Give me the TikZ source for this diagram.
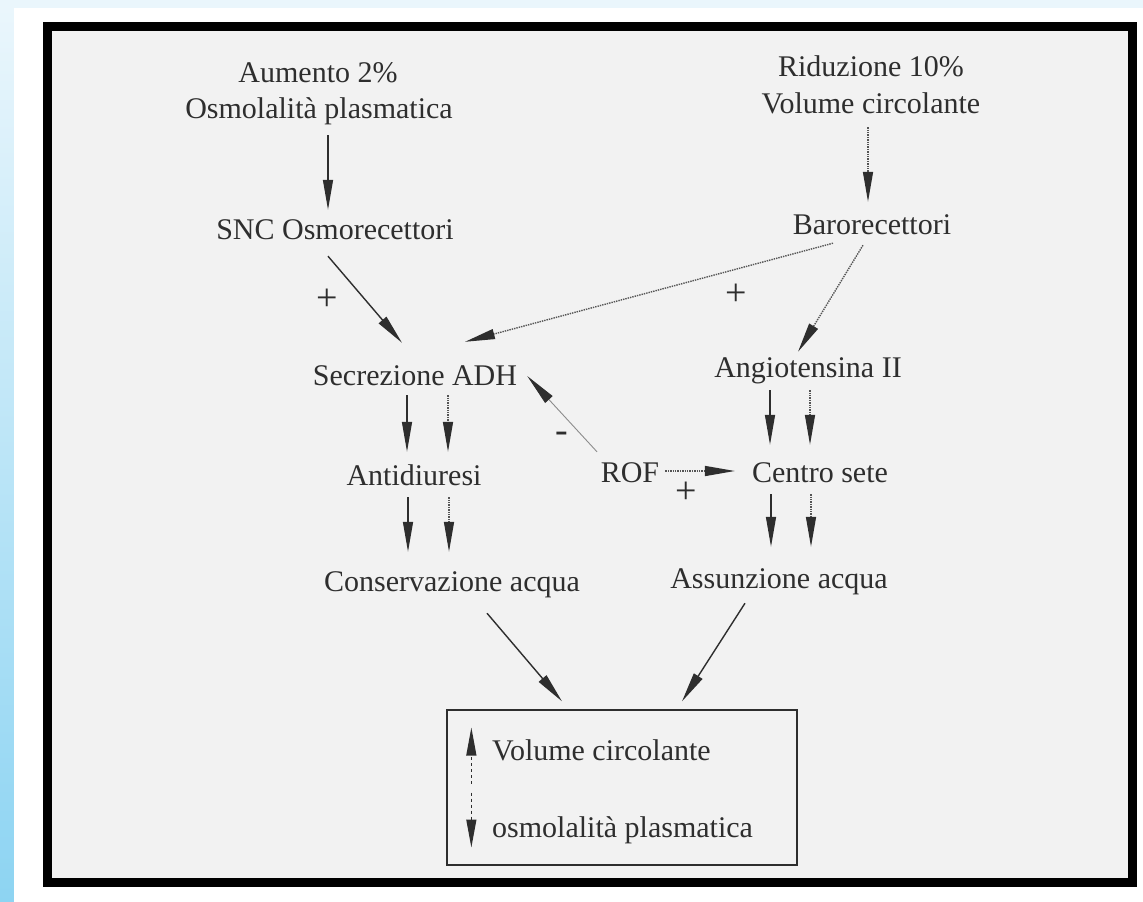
\documentclass[tikz,border=0pt]{standalone}
\usepackage{fontspec}
\setmainfont{Liberation Serif}
\usetikzlibrary{arrows.meta}
\definecolor{ink}{HTML}{2E2E2E}
\definecolor{dotink}{HTML}{555555}
\definecolor{panel}{HTML}{F2F2F2}
\definecolor{skytop}{HTML}{EAF6FC}
\definecolor{skybot}{HTML}{8DD4F2}
\begin{document}
\begin{tikzpicture}[x=1pt,y=-1pt,
  txt/.style={anchor=base, inner sep=0pt, text height=21pt, text depth=7pt,
              font=\fontsize{30}{34}\selectfont, text=ink},
  sign/.style={inner sep=0pt, font=\fontsize{38}{40}\selectfont, text=ink},
  arr/.style={draw=ink, line width=1.4pt, -{Triangle[length=30pt,width=10pt]}},
  darr/.style={draw=dotink, line width=1.4pt, densely dotted, -{Triangle[length=30pt,width=10pt,color=ink]}},
  thinarr/.style={draw=ink!55, line width=0.9pt, -{Triangle[length=32pt,width=10pt,color=ink]}},
  boxarr/.style={draw=ink, line width=1.2pt, dashed, -{Triangle[length=28pt,width=10pt]}}]
\useasboundingbox (0,0) rectangle (1143,902);
% background
\fill[skytop] (0,0) rectangle (1143,8);
\shade[top color=skytop, bottom color=skybot] (0,8) rectangle (14,902);
\fill[white] (14,8) rectangle (1143,902);
\draw[line width=9pt, fill=panel] (47.5,26.5) rectangle (1132.5,882.5);

% texts
\node[txt] (aum) at (318,82) {Aumento 2\%};
\node[txt] (osm) at (319,118) {Osmolalità plasmatica};
\node[txt] (rid) at (871,76) {Riduzione 10\%};
\node[txt] (vol) at (871,113) {Volume circolante};
\node[txt] (snc) at (335,239) {SNC Osmorecettori};
\node[txt] (baro) at (872,234) {Barorecettori};
\node[txt] (adh) at (415,385) {Secrezione ADH};
\node[txt] (ang) at (808,377) {Angiotensina II};
\node[txt] (anti) at (414,485) {Antidiuresi};
\node[txt] (rof) at (630,482) {ROF};
\node[txt] (sete) at (820,482) {Centro sete};
\node[txt] (cons) at (452,591) {Conservazione acqua};
\node[txt] (assu) at (779,588) {Assunzione acqua};
\node[draw=ink, line width=1.3pt, minimum width=350pt, minimum height=155pt, inner sep=0pt] (box) at (622,787.5) {};
\node[txt, anchor=base west] (bvol) at (492,760) {Volume circolante};
\node[txt, anchor=base west] (bosm) at (492,837) {osmolalità plasmatica};

% signs
\node[sign] (p1) at (327,300) {+};
\node[sign] (p2) at (736,295) {+};
\node[sign] (p3) at (686,493) {+};
\node[sign] (m1) at (562,437) {-};

% connectors
\draw[arr] ([shift={(9,10)}]osm.south) -- ([shift={(-7,-8)}]snc.north);
\draw[darr] ([shift={(-3,7)}]vol.south) -- ([shift={(-4,-11)}]baro.north);
\draw[arr] ([shift={(-7,10)}]snc.south) -- ([shift={(-13,-21)}]adh.north);
\draw[darr] ([shift={(-39,2)}]baro.south) -- ([shift={(50,-22)}]adh.north);
\draw[darr] ([shift={(-9,4)}]baro.south) -- ([shift={(-10,-4)}]ang.north);
\draw[arr] ([shift={(-8,3)}]adh.south) -- ([shift={(-7,-12)}]anti.north);
\draw[darr] ([shift={(33,3)}]adh.south) -- ([shift={(34,-12)}]anti.north);
\draw[arr] ([shift={(-6,5)}]anti.south) -- ([shift={(-44,-18)}]cons.north);
\draw[darr] ([shift={(35,5)}]anti.south) -- ([shift={(-3,-18)}]cons.north);
\draw[arr] ([shift={(-38,6)}]ang.south) -- ([shift={(-50,-16)}]sete.north);
\draw[darr] ([shift={(2,6)}]ang.south) -- ([shift={(-10,-16)}]sete.north);
\draw[arr] ([shift={(-49,5)}]sete.south) -- ([shift={(-8,-20)}]assu.north);
\draw[darr] ([shift={(-9,5)}]sete.south) -- ([shift={(32,-20)}]assu.north);
\draw[darr] ([shift={(6,-4)}]rof.east) -- ([shift={(-17,-4)}]sete.west);
\draw[thinarr] ([shift={(-33,-9)}]rof.north) -- ([shift={(10,-2)}]adh.east);
\draw[arr] ([shift={(35,15)}]cons.south) -- ([shift={(-60,-8)}]box.north);
\draw[arr] ([shift={(-34,8)}]assu.south) -- ([shift={(60,-8)}]box.north);
\draw[boxarr] ([shift={(25,-4)}]box.west) -- ([shift={(25,-60)}]box.west);
\draw[boxarr] ([shift={(25,5)}]box.west) -- ([shift={(25,60)}]box.west);
\end{tikzpicture}
\end{document}
